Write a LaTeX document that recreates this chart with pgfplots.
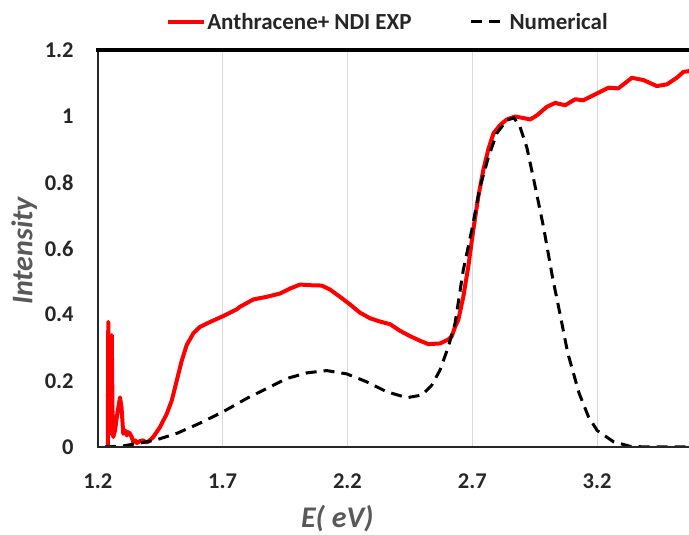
\documentclass[border=0pt]{standalone}
\usepackage{fontspec}
\setmainfont{Carlito}
\usepackage{pgfplots}
\pgfplotsset{compat=1.18}
\definecolor{tickgray}{RGB}{38,38,38}
\definecolor{labgray}{RGB}{89,89,89}
\definecolor{gridgray}{RGB}{217,217,217}
\begin{document}
\begin{tikzpicture}
\begin{axis}[
  name=ax,
  at={(0,0)}, anchor=south west,
  scale only axis, width=591.2pt, height=397pt,
  xmin=1.2, xmax=3.568, ymin=0, ymax=1.2,
  xtick={1.2,1.7,2.2,2.7,3.2},
  ytick={0,0.2,0.4,0.6,0.8,1,1.2},
  xticklabels={1.2,1.7,2.2,2.7,3.2},
  yticklabels={0,0.2,0.4,0.6,0.8,1,1.2},
  major tick length=0pt,
  xmajorgrids, grid style={gridgray, line width=0.8pt},
  axis line style={draw=none},
  tick label style={font=\bfseries\fontsize{22.5}{26}\selectfont, text=tickgray, inner sep=0pt},
  xticklabel style={anchor=center, yshift=-34pt},
  yticklabel style={anchor=east, xshift=-24pt},
  legend columns=2,
  legend style={at={(rel axis cs:0.49,1)}, anchor=center, yshift=28pt,
    draw=none, fill=none, font=\bfseries\fontsize{23}{27}\selectfont, text=tickgray,
    /tikz/every even column/.append style={column sep=57pt},
    nodes={inner sep=1pt}},
  legend cell align=left,
  legend image code/.code={\draw[#1] (0pt,0pt) -- (36pt,0pt);},
  clip=true,
]
\addplot[red, line width=4pt, line join=round] coordinates {
(1.240,0.0)(1.242,0.378)(1.246,0.10)(1.249,0.04)(1.253,0.20)(1.256,0.338)
(1.259,0.10)(1.262,0.03)(1.269,0.05)(1.276,0.09)(1.289,0.15)(1.295,0.12)
(1.302,0.04)(1.309,0.05)(1.316,0.035)(1.322,0.045)(1.329,0.04)(1.336,0.03)
(1.342,0.015)(1.35,0.02)(1.356,0.012)(1.369,0.018)(1.382,0.02)(1.392,0.014)
(1.402,0.016)(1.422,0.03)(1.449,0.06)(1.476,0.10)(1.496,0.14)(1.516,0.20)
(1.536,0.26)(1.556,0.308)(1.583,0.344)(1.609,0.363)(1.65,0.378)(1.703,0.396)
(1.756,0.416)(1.77,0.424)(1.823,0.446)(1.877,0.454)(1.93,0.464)(1.97,0.479)
(2.01,0.491)(2.05,0.489)(2.097,0.488)(2.13,0.476)(2.17,0.454)(2.21,0.431)
(2.25,0.406)(2.291,0.389)(2.331,0.379)(2.371,0.371)(2.411,0.351)(2.451,0.335)
(2.491,0.321)(2.524,0.311)(2.571,0.313)(2.604,0.325)(2.618,0.335)(2.631,0.363)
(2.644,0.384)(2.664,0.454)(2.684,0.545)(2.704,0.656)(2.724,0.756)(2.744,0.837)
(2.765,0.902)(2.785,0.948)(2.811,0.973)(2.838,0.990)(2.872,0.999)(2.90,0.995)
(2.932,0.99)(2.96,1.003)(2.998,1.028)(3.032,1.040)(3.072,1.033)(3.112,1.051)
(3.145,1.048)(3.192,1.066)(3.245,1.086)(3.285,1.084)(3.339,1.116)(3.386,1.109)
(3.439,1.091)(3.479,1.096)(3.519,1.116)(3.546,1.134)(3.568,1.136)
};
\addlegendentry{Anthracene+ NDI EXP}
\addplot[black, line width=3pt, dash pattern=on 11pt off 7pt] coordinates {
(1.229,0)(1.30,0.003)(1.369,0.012)(1.436,0.022)(1.516,0.041)(1.609,0.072)
(1.703,0.107)(1.797,0.147)(1.877,0.177)(1.957,0.207)(2.037,0.224)(2.117,0.231)
(2.197,0.221)(2.277,0.197)(2.357,0.167)(2.438,0.149)(2.498,0.157)(2.538,0.187)
(2.571,0.233)(2.604,0.303)(2.631,0.374)(2.664,0.535)(2.698,0.656)(2.731,0.786)
(2.765,0.877)(2.798,0.948)(2.838,0.988)(2.867,0.995)(2.891,0.968)(2.918,0.907)
(2.945,0.812)(2.985,0.666)(3.022,0.51)(3.052,0.40)(3.082,0.285)(3.128,0.162)
(3.165,0.092)(3.20,0.05)(3.265,0.016)(3.332,0.002)(3.40,0)(3.568,0)
};
\addlegendentry{Numerical}
\end{axis}
\draw[line width=2.5pt, black!85, line cap=rect] (ax.north west) -- (ax.south west) -- (ax.south east);
\draw[line width=3.5pt, black, line cap=rect] (ax.north west) -- (ax.north east);
\node[font=\bfseries\itshape\fontsize{30}{34}\selectfont, text=labgray, rotate=90, anchor=center] at (-73.5pt,196pt) {Intensity};
\node[font=\bfseries\itshape\fontsize{30}{34}\selectfont, text=labgray, anchor=center] at (239.5pt,-72pt) {E( eV)};
\pgfresetboundingbox
\path[use as bounding box] (-97.8pt,-88pt) rectangle (591.2pt,447pt);
\end{tikzpicture}
\end{document}
